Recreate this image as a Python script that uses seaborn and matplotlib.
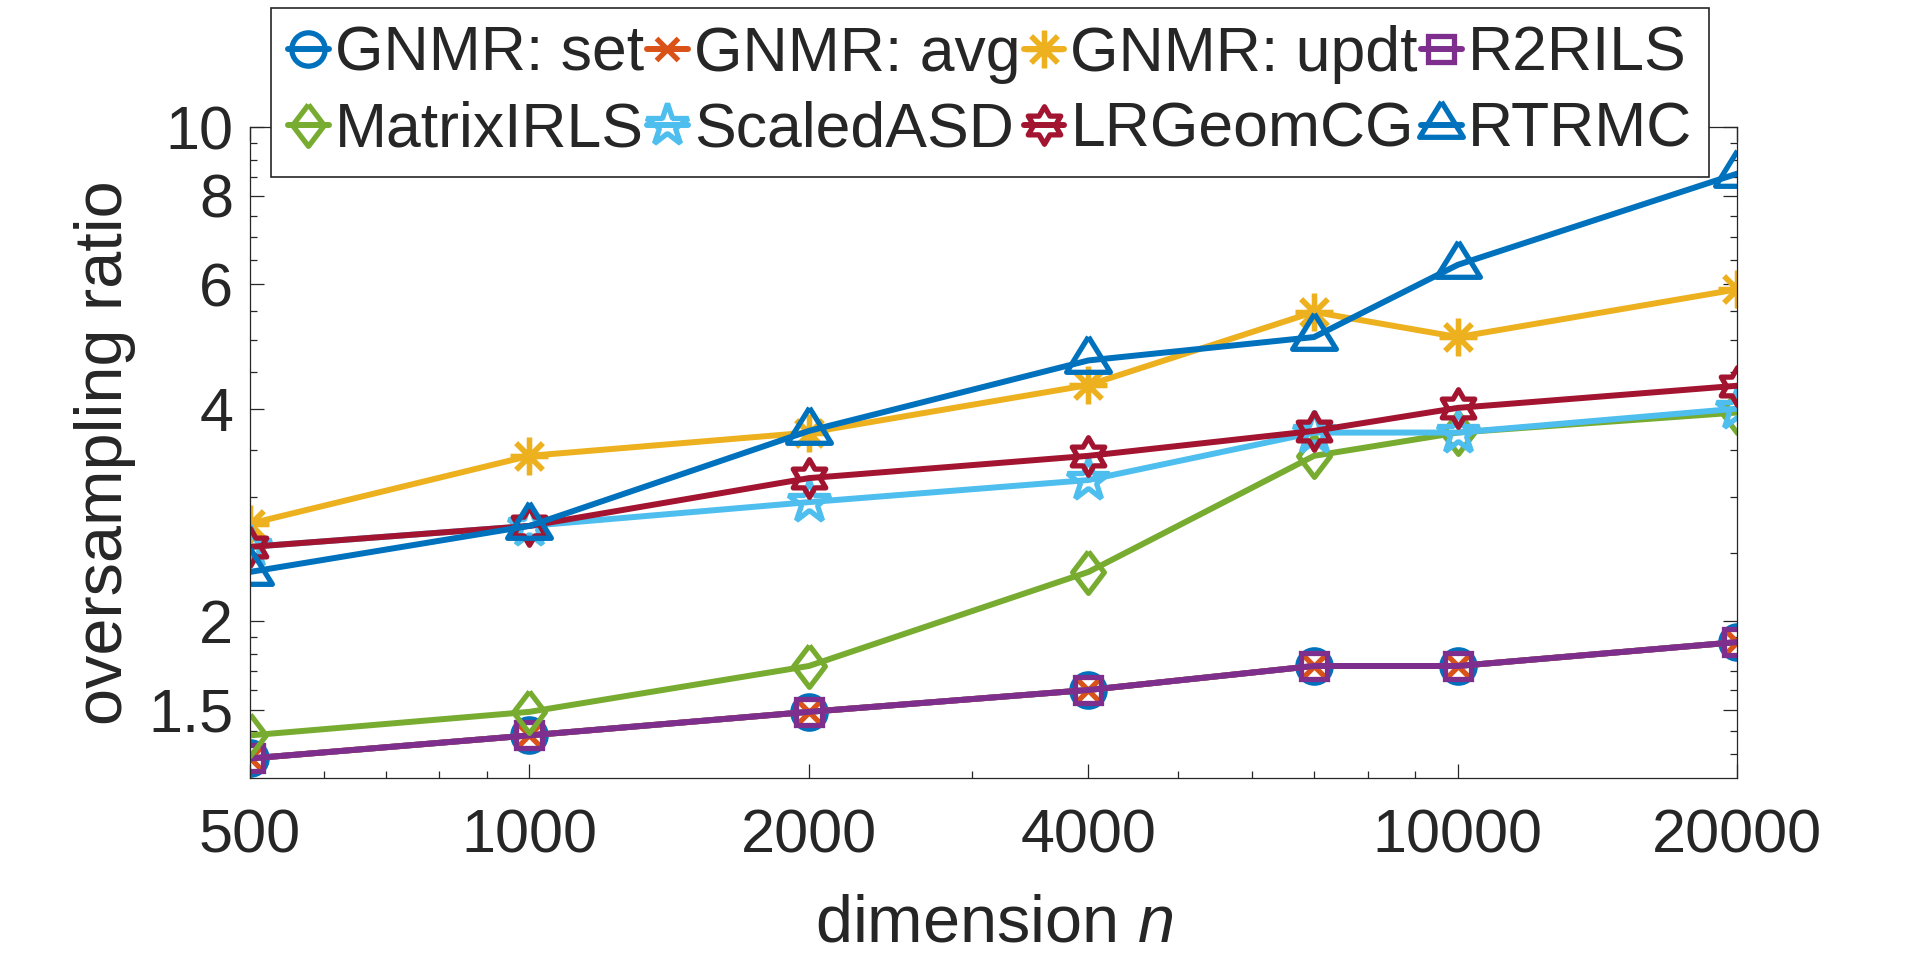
import matplotlib
matplotlib.use('Agg')
import matplotlib.pyplot as plt
from matplotlib.path import Path
from matplotlib.ticker import FixedLocator, LogLocator, NullFormatter
import seaborn as sns

# values
dims = [500, 1000, 2000, 4000, 7000, 10000, 20000]
gnmr_set = [1.28, 1.38, 1.49, 1.60, 1.73, 1.73, 1.87]
gnmr_avg = [1.28, 1.38, 1.49, 1.60, 1.73, 1.73, 1.87]
gnmr_updt = [2.75, 3.43, 3.70, 4.32, 5.48, 5.05, 5.90]
r2rils = [1.28, 1.38, 1.49, 1.60, 1.73, 1.73, 1.87]
matrix_irls = [1.38, 1.49, 1.73, 2.35, 3.43, 3.70, 3.95]
scaled_asd = [2.55, 2.73, 2.95, 3.17, 3.70, 3.70, 4.00]
lrgeomcg = [2.55, 2.73, 3.19, 3.43, 3.72, 4.01, 4.31]
rtrmc = [2.35, 2.73, 3.72, 4.68, 5.05, 6.39, 8.60]

x_ticks = [500, 1000, 2000, 4000, 10000, 20000]
y_ticks = [1.5, 2, 4, 6, 8, 10]
y_minor = [1.3, 1.4, 1.6, 1.7, 1.8, 1.9, 2.5, 3, 3.5, 4.5, 5, 5.5,
           6.5, 7, 7.5, 8.5, 9, 9.5]

# MATLAB-like marker shapes
diamond = [(0, 1), (0.76, 0), (0, -1), (-0.76, 0), (0, 1)]
triangle = [(0, 1.08), (-1, -0.54), (1, -0.54), (0, 1.08)]
hexagram = Path.unit_regular_star(6, 0.577)
asterisk = (8, 2, 0)

series = [
    ('GNMR: set', gnmr_set, '#0072BD', 'o', 24),
    ('GNMR: avg', gnmr_avg, '#D95319', 'x', 16),
    ('GNMR: updt', gnmr_updt, '#EDB120', asterisk, 27),
    ('R2RILS', r2rils, '#7E2F8E', 's', 19),
    ('MatrixIRLS', matrix_irls, '#77AC30', diamond, 30),
    ('ScaledASD', scaled_asd, '#4DBEEE', '*', 32),
    ('LRGeomCG', lrgeomcg, '#A2142F', hexagram, 27),
    ('RTRMC', rtrmc, '#0072BD', triangle, 34),
]

sns.set_theme(style='ticks')
plt.rcParams['font.family'] = ['Liberation Sans', 'DejaVu Sans']
plt.rcParams['mathtext.fontset'] = 'custom'
plt.rcParams['mathtext.rm'] = 'Liberation Sans'
plt.rcParams['mathtext.it'] = 'Liberation Sans:italic'

fig = plt.figure(figsize=(19.2, 9.63), dpi=100)
ax = fig.add_axes([250 / 1920, 1 - 778.3 / 963, 1487.3 / 1920, 651 / 963])
ax.set_xscale('log')
ax.set_yscale('log')

for label, vals, col, mk, ms in series:
    sns.lineplot(x=dims, y=vals, ax=ax, color=col, linewidth=4.3, marker=mk,
                 markersize=ms, markeredgewidth=3.8, markeredgecolor=col,
                 markerfacecolor='none', label=label)

ax.set_xlim(500, 20000)
ax.set_ylim(1.2, 10)

ax.xaxis.set_major_locator(FixedLocator(x_ticks))
ax.set_xticklabels([str(v) for v in x_ticks])
ax.xaxis.set_minor_locator(LogLocator(base=10, subs=range(2, 10)))
ax.xaxis.set_minor_formatter(NullFormatter())
ax.yaxis.set_major_locator(FixedLocator(y_ticks))
ax.set_yticklabels(['1.5', '2', '4', '6', '8', '10'])
ax.yaxis.set_minor_locator(FixedLocator(y_minor))
ax.yaxis.set_minor_formatter(NullFormatter())

ax.tick_params(which='both', direction='in', top=True, right=True,
               color='#262626', width=0.9)
ax.tick_params(which='major', length=10, labelsize=44, labelcolor='#262626')
ax.tick_params(which='minor', length=5)
ax.tick_params(axis='x', which='major', pad=22)
ax.tick_params(axis='y', which='major', pad=12)
for sp in ax.spines.values():
    sp.set_visible(True)
    sp.set_color('#262626')
    sp.set_linewidth(0.9)

ax.set_xlabel('dimension $n$', fontsize=48, color='#262626', labelpad=20)
ax.set_ylabel('oversampling ratio', fontsize=48, color='#262626', labelpad=9)

# legend is filled column-wise, so reorder to get MATLAB's row-wise layout
handles, labels = ax.get_legend_handles_labels()
order = [0, 4, 1, 5, 2, 6, 3, 7]
leg = ax.legend([handles[i] for i in order], [labels[i] for i in order],
                ncol=4, loc='upper left', bbox_to_anchor=(271 / 1920, 1 - 8 / 963),
                bbox_transform=fig.transFigure, borderaxespad=0, fontsize=45,
                handlelength=0.65, handletextpad=0.1, columnspacing=0.05,
                borderpad=0.27, labelspacing=0.27, fancybox=False,
                framealpha=1, edgecolor='#262626')
leg.get_frame().set_linewidth(1.2)

fig.savefig('out.png', dpi=100, facecolor='white')
